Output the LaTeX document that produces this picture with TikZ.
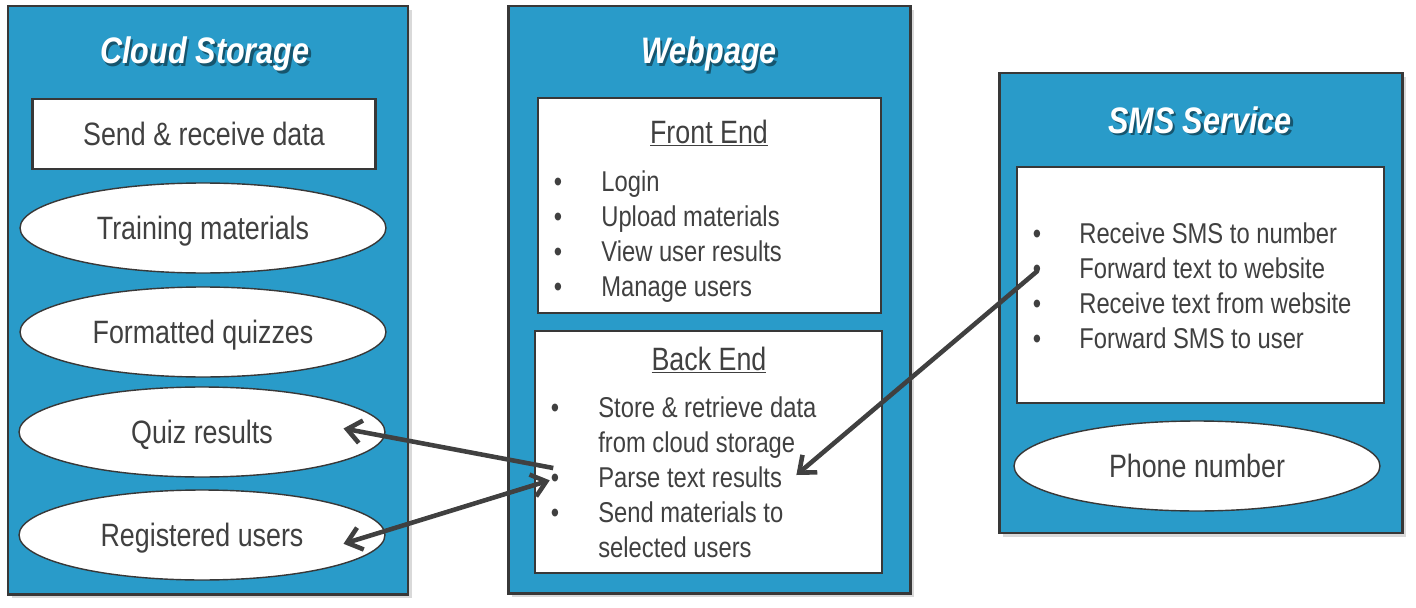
\documentclass[tikz,border=0pt]{standalone}
\usepackage{fontspec}
\setmainfont{Liberation Sans}[FakeStretch=0.83]
\usetikzlibrary{arrows.meta,shapes.geometric,shadows}

\definecolor{panelblue}{RGB}{41,155,201}
\definecolor{ink}{RGB}{64,64,64}
\definecolor{rim}{RGB}{56,56,56}

\newcommand{\headfont}{\fontsize{18.4}{22}\selectfont}
\newcommand{\listfont}{\fontsize{16.3}{19.8}\selectfont}
\newcommand{\titlefont}{\fontsize{21}{25}\selectfont\bfseries\itshape}

\tikzset{
  panel/.style={draw=rim, line width=1.7pt, fill=panelblue,
    drop shadow={shadow xshift=2.5pt, shadow yshift=-2.5pt, opacity=0.3}},
  title/.style={anchor=base, text=white, font=\titlefont},
  title shade/.style={anchor=base, text=black, opacity=0.45, font=\titlefont},
  box/.style={draw=rim, line width=1.3pt, fill=white, text=ink, font=\headfont,
    text height=13.2pt, text depth=0pt},
  blob/.style={ellipse, draw=rim, line width=0.8pt, fill=white, inner sep=0pt,
    minimum width=7.32cm, minimum height=1.8cm, text=ink, font=\headfont,
    text height=13.2pt, text depth=0pt},
  head/.style={anchor=base, inner sep=0pt, text=ink, font=\headfont},
  dot/.style={anchor=base, inner sep=0pt, text=ink, font=\listfont},
  item/.style={anchor=base west, inner sep=0pt, text=ink, font=\listfont},
  link/.style={draw=ink, line width=2.6pt},
  barb/.tip={Straight Barb[length=8pt, width=13pt]}
}

\begin{document}
\begin{tikzpicture}[x=0.02cm, y=-0.02cm]

\path [use as bounding box] (0,0) rectangle (1416,608);

% PANELS
\path [panel] (8,6) rectangle (408,594);
\path [panel] (508,6) rectangle (910,593);
\path [panel] (999,73) rectangle (1402,533);

% TITLES
\foreach \name/\x/\y/\txt in {csTitle/205/64/Cloud Storage, wpTitle/709/64/Webpage, smsTitle/1200/133/SMS Service} {
  \node [title shade] at ([xshift=1.4pt, yshift=-1.4pt]\x,\y) {\txt};
  \node [title] (\name) at (\x,\y) {\txt};
}

% CLOUD STORAGE
\node [box, minimum width=6.86cm, minimum height=1.4cm] (send) at (204,134) {Send \& receive data};
\node [blob] (train) at (203,228) {Training materials};
\node [blob] (quizzes) at (203,332) {Formatted quizzes};
\node [blob] (results) at (202,432) {Quiz results};
\node [blob] (users) at (202,535) {Registered users};

% WEBPAGE
\node [box, minimum width=6.86cm, minimum height=4.3cm] (front) at (709.5,205.5) {};
\node [head] (frontHead) at (709,143) {\underline{Front End}};
\foreach \txt [count=\i] in {Login, Upload materials, View user results, Manage users} {
  \node [dot] (frontDot\i) at (558,{156+35*\i}) {\textbullet};
  \node [item] (front\i) at (601,{156+35*\i}) {\txt};
}

\node [box, minimum width=6.94cm, minimum height=4.84cm] (back) at (708.5,452) {};
\node [head] (backHead) at (709,370) {\underline{Back End}};
\foreach \txt [count=\i] in {Store \& retrieve data, from cloud storage, Parse text results, Send materials to, selected users}
  \node [item] (back\i) at (598,{382+35*\i}) {\txt};
\foreach \i in {1,3,4}
  \node [dot] (backDot\i) at (555,{382+35*\i}) {\textbullet};

% SMS SERVICE
\node [box, minimum width=7.34cm, minimum height=4.72cm] (smsBox) at (1200.5,285) {};
\foreach \txt [count=\i] in {Receive SMS to number, Forward text to website, Receive text from website, Forward SMS to user} {
  \node [dot] (smsDot\i) at (1037,{208+35*\i}) {\textbullet};
  \node [item] (sms\i) at (1079,{208+35*\i}) {\txt};
}
\node [blob] (phone) at (1197,466) {Phone number};

% LINKS
\draw [link, -barb] ([xshift=-1pt, yshift=7pt]backDot3.center) -- ([xshift=-24pt, yshift=2pt]results.east);
\draw [link, barb-barb] ([xshift=-24pt, yshift=-5pt]users.east) -- ([xshift=-3pt]backDot3.center);
\draw [link, line cap=round, -barb] (smsDot2.center) -- ([xshift=8pt, yshift=1pt]back3.east);

\end{tikzpicture}
\end{document}
